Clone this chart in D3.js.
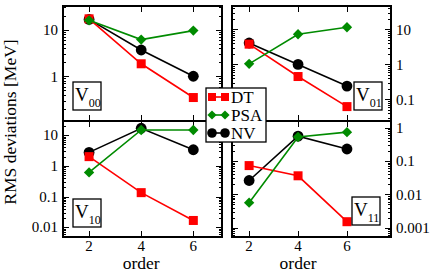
<!DOCTYPE html>
<html>
<head>
<meta charset="utf-8">
<script src="https://cdn.jsdelivr.net/npm/d3@7"></script>
<style>
  body { margin: 0; background: #fff; }
  text, tspan { font-family: "Liberation Serif", "DejaVu Serif", serif; fill: #000; }
</style>
</head>
<body>
<svg id="chart" width="431" height="273"></svg>
<script>
// data
var orders = [2, 4, 6]
var panelNames = ['00', '01', '10', '11']
var dtValues = [[17, 1.85, 0.35], [3.8, 0.45, 0.062], [2.0, 0.134, 0.0166], [0.073, 0.036, 0.0015]]
var psaValues = [[15.8, 6.1, 9.5], [1.04, 7.3, 11.6], [0.61, 14.8, 14.8], [0.0056, 0.53, 0.74]]
var nvValues = [[16.5, 3.65, 1.0], [4.1, 1.0, 0.24], [2.75, 16.8, 3.35], [0.026, 0.56, 0.23]]
var yDomains = [[0.11, 32], [0.024, 47], [0.0048, 29], [0.00052, 1.6]]
var xDomains = [[1, 7.1], [1.3, 7.8], [1, 7.1], [1.3, 7.8]]
var seriesNames = ['DT', 'PSA', 'NV']
var colors = { DT: '#ff0000', PSA: '#008b00', NV: '#000000' }

var svg = d3.select('#chart')

// panel boxes [x0, y0, x1, y1]
var boxes = [[63, 6, 222, 121], [232, 6, 391, 121], [63, 121, 222, 237], [232, 121, 391, 237]]
var labelBoxes = [[73, 82], [354, 82], [73, 199], [352, 197]]

function marker (g, name, x, y, s) {
  if (name === 'DT') {
    g.append('rect').attr('x', x - s).attr('y', y - s).attr('width', 2 * s).attr('height', 2 * s)
      .attr('fill', colors.DT)
  } else if (name === 'PSA') {
    var d = s * 1.15
    g.append('path').attr('d', 'M' + x + ',' + (y - d) + 'L' + (x + d) + ',' + y + 'L' + x + ',' + (y + d) + 'L' + (x - d) + ',' + y + 'Z')
      .attr('fill', colors.PSA)
  } else {
    g.append('circle').attr('cx', x).attr('cy', y).attr('r', s * 1.2).attr('fill', colors.NV)
  }
}

panelNames.forEach(function (name, i) {
  var b = boxes[i]
  var right = i % 2 === 1
  var x = d3.scaleLinear().domain(xDomains[i]).range([b[0], b[2]])
  var y = d3.scaleLog().domain(yDomains[i]).range([b[3], b[1]])
  var g = svg.append('g')

  // minor + major y ticks, both sides, inward
  var lo = Math.floor(Math.log10(yDomains[i][0]))
  var hi = Math.ceil(Math.log10(yDomains[i][1]))
  var ticks = []
  for (var e = lo; e <= hi; e++) {
    for (var m = 1; m < 10; m++) {
      var v = m * Math.pow(10, e)
      if (v >= yDomains[i][0] && v <= yDomains[i][1]) ticks.push({ v: v, major: m === 1 })
    }
  }
  ticks.forEach(function (t) {
    var len = t.major ? 6 : 3
    var yy = Math.round(y(t.v)) + 0.5
    g.append('line').attr('x1', b[0]).attr('x2', b[0] + len).attr('y1', yy).attr('y2', yy)
      .attr('stroke', '#000').attr('stroke-width', 1)
    g.append('line').attr('x1', b[2]).attr('x2', b[2] - len).attr('y1', yy).attr('y2', yy)
      .attr('stroke', '#000').attr('stroke-width', 1)
    if (t.major) {
      g.append('text')
        .attr('x', right ? b[2] + 5 : b[0] - 5)
        .attr('y', y(t.v))
        .attr('dy', '0.35em')
        .attr('text-anchor', right ? 'start' : 'end')
        .attr('font-size', 15)
        .text(d3.format('~g')(t.v))
    }
  })

  // x ticks top and bottom
  orders.forEach(function (o) {
    var xx = Math.round(x(o)) + 0.5
    g.append('line').attr('x1', xx).attr('x2', xx).attr('y1', b[3]).attr('y2', b[3] - 6)
      .attr('stroke', '#000')
    g.append('line').attr('x1', xx).attr('x2', xx).attr('y1', b[1]).attr('y2', b[1] + 6)
      .attr('stroke', '#000')
    if (i >= 2) {
      g.append('text').attr('x', x(o)).attr('y', 251).attr('text-anchor', 'middle')
        .attr('font-size', 15).text(o)
    }
  })
  if (i >= 2) {
    g.append('text').attr('x', x(4)).attr('y', 269).attr('text-anchor', 'middle')
      .attr('font-size', 17.5).text('order')
  }

  // series
  var data = { DT: dtValues[i], PSA: psaValues[i], NV: nvValues[i] }
  var line = d3.line().x(function (d, k) { return x(orders[k]) }).y(function (d) { return y(d) })
  ;['NV', 'DT', 'PSA'].forEach(function (s) {
    g.append('path').attr('d', line(data[s])).attr('fill', 'none')
      .attr('stroke', colors[s]).attr('stroke-width', 1.6)
    data[s].forEach(function (v, k) { marker(g, s, x(orders[k]), y(v), 4.5) })
  })

  // frame
  g.append('rect').attr('x', b[0]).attr('y', b[1]).attr('width', b[2] - b[0]).attr('height', b[3] - b[1])
    .attr('fill', 'none').attr('stroke', '#000').attr('stroke-width', 2)

  // V label box
  var lb = labelBoxes[i]
  g.append('rect').attr('x', lb[0]).attr('y', lb[1]).attr('width', 28).attr('height', 28)
    .attr('fill', '#fff').attr('stroke', '#000').attr('stroke-width', 1.3)
  var t = g.append('text').attr('x', lb[0] + 2).attr('y', lb[1] + 19).attr('font-size', 19)
  t.append('tspan').attr('fill', '#000').text('V')
  t.append('tspan').attr('fill', '#000').attr('font-size', 12).attr('dy', 6).text(name)
})

// legend
var lg = svg.append('g')
lg.append('rect').attr('x', 206).attr('y', 88).attr('width', 60).attr('height', 54)
  .attr('fill', '#fff').attr('stroke', '#000').attr('stroke-width', 1.3)
seriesNames.forEach(function (s, k) {
  var yy = 97 + k * 18
  lg.append('line').attr('x1', 212).attr('x2', 225).attr('y1', yy).attr('y2', yy)
    .attr('stroke', colors[s]).attr('stroke-width', 1.6)
  marker(lg, s, 212, yy, 4)
  marker(lg, s, 225, yy, 4)
  lg.append('text').attr('x', 231).attr('y', yy).attr('dy', '0.35em').attr('font-size', 17).text(s)
})

// y label
svg.append('text')
  .attr('transform', 'translate(16,122) rotate(-90)')
  .attr('text-anchor', 'middle')
  .attr('font-size', 17.5)
  .text('RMS deviations [MeV]')
</script>
</body>
</html>
